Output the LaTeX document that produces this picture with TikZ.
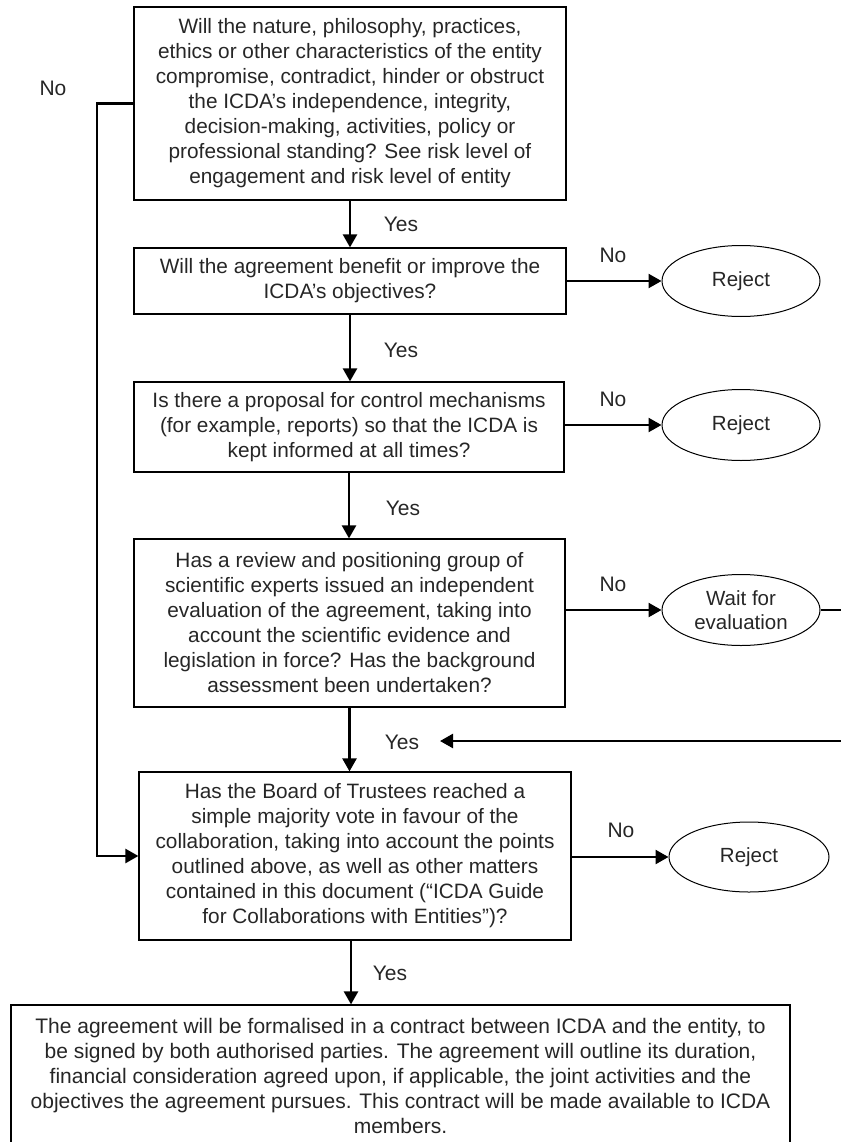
\documentclass[tikz,border=0pt]{standalone}
\usepackage{fontspec}
\setmainfont{Liberation Sans}
\usetikzlibrary{arrows.meta,shapes.geometric,calc}
\definecolor{txt}{HTML}{262626}
\tikzset{
  qbox/.style={draw=black, line width=1.2pt, rectangle, align=center, inner sep=0pt,
               text=txt, font=\fontsize{20.8}{25}\selectfont},
  qboxwide/.style={qbox, font=\fontsize{21}{25}\selectfont},
  oval/.style={draw=black, line width=1pt, ellipse, align=center, inner sep=0pt,
               minimum width=158pt, minimum height=71pt, text=txt,
               font=\fontsize{20.5}{24}\selectfont},
  lbl/.style={text=txt, inner sep=0pt, font=\fontsize{21}{24}\selectfont},
  flow/.style={line width=2.4pt, draw=black, -{Triangle[length=13pt,width=14pt]}}
}
\begin{document}
\begin{tikzpicture}[x=1pt,y=-1pt]
\useasboundingbox (0,0) rectangle (840,1142);

\node[qbox, minimum width=432pt, minimum height=193pt] (b1) at (350,103.5)
 {Will the nature, philosophy, practices,\\
  ethics or other characteristics of the entity\\
  compromise, contradict, hinder or obstruct\\
  the ICDA's independence, integrity,\\
  decision-making, activities, policy or\\
  professional standing? See risk level of\\
  engagement and risk level of entity};

\node[qbox, minimum width=432pt, minimum height=66pt] (b2) at (350,281)
 {Will the agreement benefit or improve the\\
  ICDA's objectives?};

\node[qbox, minimum width=430pt, minimum height=90pt] (b3) at (349,427)
 {Is there a proposal for control mechanisms\\
  (for example, reports) so that the ICDA is\\
  kept informed at all times?};

\node[qbox, minimum width=431pt, minimum height=168pt] (b4) at (349.5,623)
 {Has a review and positioning group of\\
  scientific experts issued an independent\\
  evaluation of the agreement, taking into\\
  account the scientific evidence and\\
  legislation in force? Has the background\\
  assessment been undertaken?};

\node[qbox, minimum width=432pt, minimum height=168pt] (b5) at (355,856)
 {Has the Board of Trustees reached a\\
  simple majority vote in favour of the\\
  collaboration, taking into account the points\\
  outlined above, as well as other matters\\
  contained in this document (``ICDA Guide\\
  for Collaborations with Entities'')?};

\node[qboxwide, minimum width=779pt, minimum height=141pt] (b6) at (400.5,1075.5)
 {The agreement will be formalised in a contract between ICDA and the entity, to\\
  be signed by both authorised parties. The agreement will outline its duration,\\
  financial consideration agreed upon, if applicable, the joint activities and the\\
  objectives the agreement pursues. This contract will be made available to ICDA\\
  members.};

\node[oval] (r1) at (741,281) {Reject};
\node[oval] (r2) at (741,425) {Reject};
\node[oval] (w)  at (741,610) {Wait for\\evaluation};
\node[oval, minimum width=160pt, minimum height=70pt] (r3) at (749,857) {Reject};

% labels
\node[lbl] (no0) at (53,88) {No};
\node[lbl] (no1) at (613,255) {No};
\node[lbl] (no2) at (613,399) {No};
\node[lbl] (no3) at (613,584) {No};
\node[lbl] (no4) at (621,830) {No};
\node[lbl] (y1) at (401,224) {Yes};
\node[lbl] (y2) at (401,350) {Yes};
\node[lbl] (y3) at (403,508) {Yes};
\node[lbl] (y4) at (402,742) {Yes};
\node[lbl] (y5) at (390,973) {Yes};

% helper coordinates
\coordinate (leftx) at (97,0);
\coordinate (rightx) at (852,0);
\coordinate (jointip) at (440,741);
\coordinate (lastx) at (351,0);

% main flow
\draw[flow] (b1.south) -- (b1.south |- b2.north);
\draw[flow] (b2.south) -- (b2.south |- b3.north);
\draw[flow] (b3.south) -- (b3.south |- b4.north);
\draw[flow] (b4.south) -- (b4.south |- b5.north);
\draw[flow] (b5.south -| lastx) -- (lastx |- b6.north);

% No branches
\draw[flow] (b2.east) -- (r1.west);
\draw[flow] (b3.east |- r2.west) -- (r2.west);
\draw[flow] (b4.east |- w.west) -- (w.west);
\draw[flow] (b5.east |- r3.west) -- (r3.west);

% left bypass
\draw[flow] (b1.west) -- (b1.west -| leftx) |- (b5.west);

% wait loop
\draw[flow] (w.east) -- (w.east -| rightx) |- (jointip);
\end{tikzpicture}
\end{document}
